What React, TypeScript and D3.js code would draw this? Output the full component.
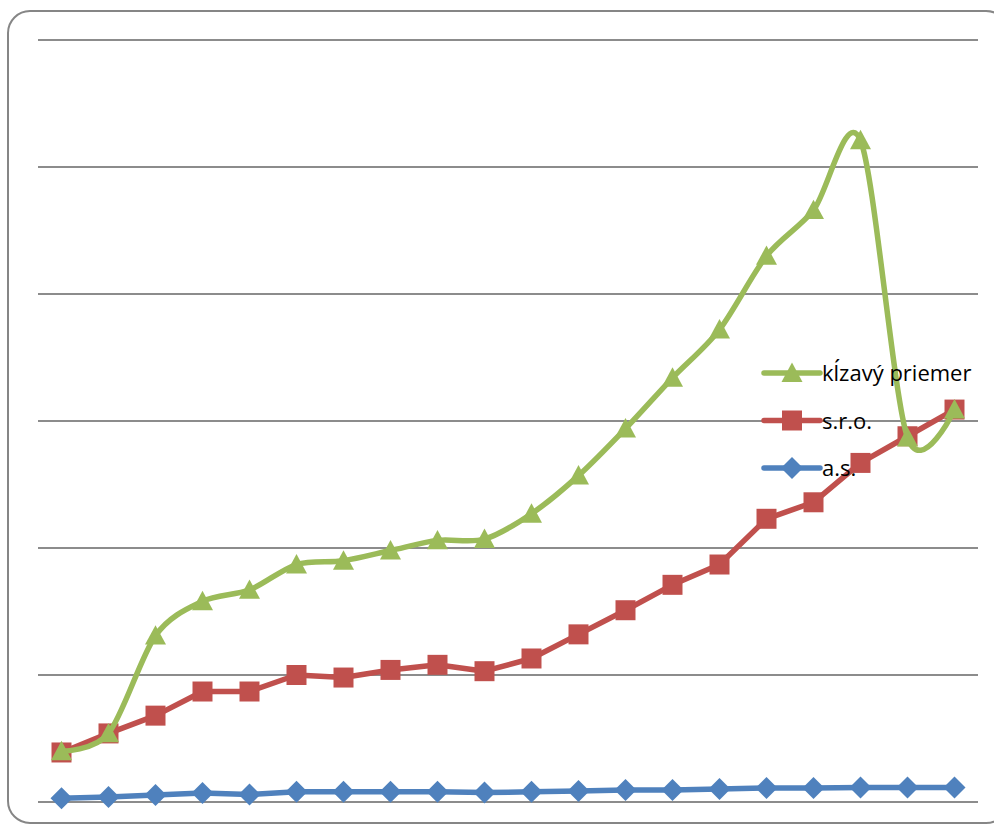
import React, { useRef, useEffect } from 'react';
import * as d3 from 'd3';

// kategórie (20 období), hodnoty odčítané z grafu
const categories = d3.range(1, 21).map(String);
const klzavy = [4.0, 5.4, 13.1, 15.8, 16.7, 18.7, 19.0, 19.8, 20.6, 20.7, 22.7, 25.7, 29.4, 33.4, 37.2, 43.0, 46.6, 52.1, 28.7, 30.9];
const sro = [3.9, 5.4, 6.8, 8.7, 8.7, 10.0, 9.8, 10.4, 10.8, 10.3, 11.3, 13.2, 15.1, 17.1, 18.7, 22.3, 23.6, 26.7, 28.8, 30.9];
const as = [0.3, 0.4, 0.55, 0.7, 0.6, 0.8, 0.8, 0.8, 0.8, 0.75, 0.8, 0.87, 0.94, 0.94, 1.02, 1.1, 1.1, 1.14, 1.14, 1.14];
const yTicks = [0, 10, 20, 30, 40, 50, 60];

const W = 994, H = 825;

function App() {
    const ref = useRef<SVGSVGElement | null>(null);

    useEffect(() => {
        const svg = d3.select(ref.current);
        svg.selectAll('*').remove();

        const margin = { left: 38, right: 16, top: 40, bottom: 23 };
        const x = d3.scaleBand().domain(categories).range([margin.left, W - margin.right]);
        const y = d3.scaleLinear().domain([0, 60]).range([H - margin.bottom, margin.top]);
        const cx = (i: number) => (x(categories[i]) as number) + x.bandwidth() / 2;

        // rámik
        svg.append('rect')
            .attr('x', 8).attr('y', 11).attr('width', 1000).attr('height', 812)
            .attr('rx', 22).attr('fill', '#fff').attr('stroke', '#868686').attr('stroke-width', 2);

        // mriežka
        svg.append('g').selectAll('line').data(yTicks).enter().append('line')
            .attr('x1', margin.left).attr('x2', W - margin.right)
            .attr('y1', d => y(d)).attr('y2', d => y(d))
            .attr('stroke', '#8c8c8c').attr('stroke-width', 2);

        const series = [
            { name: 'a.s.', values: as, color: '#4F81BD', marker: 'diamond', smooth: false },
            { name: 's.r.o.', values: sro, color: '#C0504D', marker: 'square', smooth: false },
            { name: 'kĺzavý priemer', values: klzavy, color: '#9BBB59', marker: 'triangle', smooth: true },
        ];

        const markerPath = (m: string) => {
            if (m === 'diamond') {
                const h = 11;
                return `M0,${-h}L${h},0L0,${h}L${-h},0Z`;
            }
            if (m === 'square') {
                const h = 10;
                return `M${-h},${-h}H${h}V${h}H${-h}Z`;
            }
            const h = 10.5;
            return `M0,${-h}L${h},${h * 0.85}L${-h},${h * 0.85}Z`;
        };

        series.forEach(s => {
            const line = d3.line<number>()
                .x((_, i) => cx(i))
                .y(d => y(d))
                .curve(s.smooth ? d3.curveCardinal.tension(0.1) : d3.curveLinear);
            svg.append('path')
                .attr('d', line(s.values) as string)
                .attr('fill', 'none').attr('stroke', s.color).attr('stroke-width', 5.5)
                .attr('stroke-linejoin', 'round');
            svg.append('g').selectAll('path').data(s.values).enter().append('path')
                .attr('transform', (d, i) => `translate(${cx(i)},${y(d)})`)
                .attr('d', markerPath(s.marker))
                .attr('fill', s.color);
        });

        // legenda
        const legend = svg.append('g').attr('transform', 'translate(764,373)');
        series.slice().reverse().forEach((s, i) => {
            const g = legend.append('g').attr('transform', `translate(0,${i * 47.5})`);
            g.append('line').attr('x1', 0).attr('x2', 56).attr('y1', 0).attr('y2', 0)
                .attr('stroke', s.color).attr('stroke-width', 5.5).attr('stroke-linecap', 'round');
            g.append('path').attr('transform', 'translate(28,0)')
                .attr('d', markerPath(s.marker))
                .attr('fill', s.color);
            g.append('text').attr('x', 58).attr('y', 8)
                .attr('font-family', '"Open Sans", sans-serif').attr('font-size', 22)
                .attr('fill', '#000').text(s.name);
        });
    }, []);

    return (
        <svg ref={ref} width={W} height={H}
             style={{ position: 'absolute', left: 0, top: 0, background: '#fff' }} />
    );
}

export default App;
